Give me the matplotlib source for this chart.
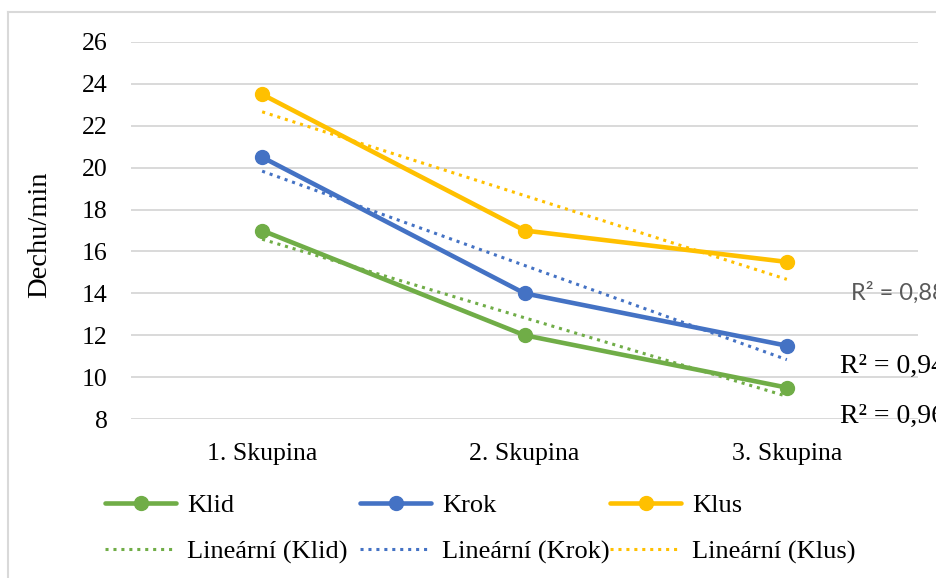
import numpy as np
import matplotlib
matplotlib.use("Agg")
import matplotlib.pyplot as plt
from matplotlib.lines import Line2D

# Breathing rate per group
categories = ["1. Skupina", "2. Skupina", "3. Skupina"]
klid = [17.0, 12.0, 9.5]
krok = [20.5, 14.0, 11.5]
klus = [23.5, 17.0, 15.5]
series_names = ["Klid", "Krok", "Klus"]
y_ticks = [8, 10, 12, 14, 16, 18, 20, 22, 24, 26]

colors = {"Klid": "#70AD47", "Krok": "#4472C4", "Klus": "#FFC000"}
serif = "Liberation Serif"
plt.rcParams["font.family"] = [serif, "DejaVu Serif"]
W, H = 936, 578

fig = plt.figure(figsize=(W / 100, H / 100), dpi=100)
ax = fig.add_axes([131 / W, 1 - 419 / H, (918 - 131) / W, (419 - 42) / H])

x = np.arange(len(categories))
xt = x + 1  # trendline x values (1, 2, 3)
data = {"Klid": klid, "Krok": krok, "Klus": klus}

handles_main = []
handles_trend = []
r2_values = {}
for name in series_names:
    y = np.asarray(data[name])
    c = colors[name]
    (h,) = ax.plot(x, y, color=c, lw=3.3, marker="o", ms=10, zorder=3,
                   solid_capstyle="round")
    handles_main.append(h)
    slope, intercept = np.polyfit(xt, y, 1)
    fit = slope * xt + intercept
    ss_res = np.sum((y - fit) ** 2)
    ss_tot = np.sum((y - y.mean()) ** 2)
    r2_values[name] = 1 - ss_res / ss_tot
    (t,) = ax.plot(x, fit, color=c, lw=2.2, linestyle=(0, (1, 1.6)), zorder=4)
    handles_trend.append(t)

ax.set_xlim(-0.5, 2.5)
ax.set_ylim(8, 26)
ax.set_yticks(y_ticks)
ax.set_xticks(x)
ax.set_xticklabels(categories)
ax.grid(axis="y", color="#D9D9D9", lw=1.4, zorder=0)
ax.set_axisbelow(True)
for s in ax.spines.values():
    s.set_visible(False)
ax.tick_params(length=0)
ax.tick_params(axis="y", pad=17)
ax.tick_params(axis="x", pad=17)
for lab in ax.get_xticklabels() + ax.get_yticklabels():
    lab.set_fontsize(18.5)

fig.text(40 / W, 1 - 235 / H, "Dechu/min", rotation=90, ha="center",
         va="center", fontsize=20.5)

# R² annotations (run off the right edge)
def r2_text(v):
    return "R² = " + f"{v:.2f}".replace(".", ",")

fig.text(851 / W, 1 - 293 / H, r2_text(r2_values["Klus"]), ha="left",
         va="center", family="Lato", fontsize=17, color="#595959")
fig.text(840 / W, 1 - 366 / H, r2_text(r2_values["Krok"]), ha="left",
         va="center", fontsize=20, color="black")
fig.text(840 / W, 1 - 416 / H, r2_text(r2_values["Klid"]), ha="left",
         va="center", fontsize=20, color="black")

# Legend: one column per series
col_left = [105, 360, 610]
for i, name in enumerate(series_names):
    fig.legend([handles_main[i], handles_trend[i]],
               [name, f"Lineární ({name})"],
               loc="upper left",
               bbox_to_anchor=(col_left[i] / W, 1 - 494 / H),
               frameon=False, borderpad=0, borderaxespad=0,
               handlelength=2.7, handletextpad=0.4, labelspacing=0.85,
               fontsize=19)

# Chart border (top and left edges)
fig.add_artist(Line2D([8 / W, 8 / W], [0, 1 - 12 / H], color="#D9D9D9",
                      lw=1.5, transform=fig.transFigure))
fig.add_artist(Line2D([8 / W, 1], [1 - 12 / H, 1 - 12 / H], color="#D9D9D9",
                      lw=1.5, transform=fig.transFigure))

fig.savefig("out.png", dpi=100)
